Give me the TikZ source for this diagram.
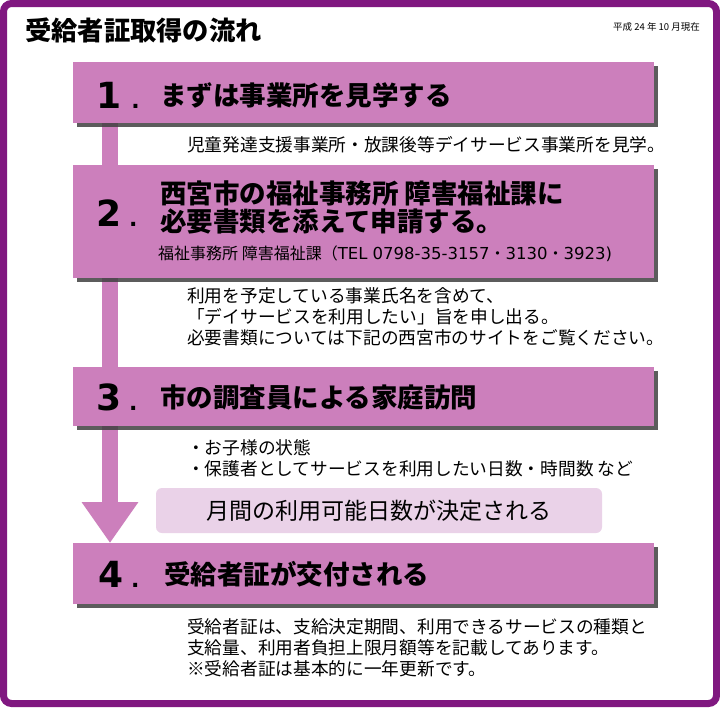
\documentclass[tikz,border=0pt]{standalone}
\usepackage{fontspec}
\setmainfont{Noto Sans CJK JP}
\newfontfamily\numfont{DejaVu Sans}
\usetikzlibrary{shadows,arrows.meta,backgrounds}

\definecolor{framepurple}{RGB}{128,24,128}
\definecolor{boxpink}{RGB}{204,127,188}
\definecolor{notepink}{RGB}{234,210,232}

\newcommand{\telfont}{\numfont\fontsize{16.5}{16.5}\selectfont}

\tikzset{
  stepbox/.style={anchor=north west, fill=boxpink, minimum width=581pt, inner sep=0pt,
    drop shadow={shadow xshift=4pt, shadow yshift=-4pt, fill=black!75, opacity=.85}},
  stepnum/.style={anchor=west, inner sep=0pt, font=\numfont\bfseries\fontsize{36}{36}\selectfont},
  stephead/.style={anchor=west, inner sep=0pt, align=left, font=\bfseries\fontsize{26.5}{27.5}\selectfont},
  steptext/.style={anchor=west, inner sep=0pt, align=left, font=\fontsize{17.7}{21}\selectfont},
  flowbar/.style={draw=boxpink, line width=16pt},
}

\begin{document}
\begin{tikzpicture}[x=1pt,y=-1pt]
\useasboundingbox (0,0) rectangle (720,707);
\begin{pgfonlayer}{background}
\draw[line width=7pt, draw=framepurple, fill=white, rounded corners=8pt] (3.5,3.5) rectangle (716.5,703.5);
\end{pgfonlayer}

\node[anchor=west, inner sep=0pt, font=\bfseries\fontsize{26.3}{26}\selectfont] (title) at (25,30) {受給者証取得の流れ};
\node[anchor=east, inner sep=0pt, font=\fontsize{9.5}{9.5}\selectfont] (date) at (700,27) {平成 24 年 10 月現在};

% step boxes
\node[stepbox, minimum height=61pt] (step1) at (73,62) {};
\node[stepbox, minimum height=113pt] (step2) at (73,165) {};
\node[stepbox, minimum height=59pt] (step3) at (73,367) {};
\node[stepbox, minimum height=61pt] (step4) at (73,543) {};

\node[stepnum] (num1) at (96,95) {1\kern10pt{\fontsize{22}{22}\selectfont.}};
\node[stephead] (head1) at (160,95) {まずは事業所を見学する};
\node[stepnum] (num2) at (96,213) {2\kern8pt{\fontsize{22}{22}\selectfont.}};
\node[stephead] (head2) at (160,207.5) {西宮市の福祉事務所 障害福祉課に\\必要書類を添えて申請する。};
\node[anchor=west, inner sep=0pt, font=\fontsize{16}{16}\selectfont] (tel) at (158,254)
  {福祉事務所 障害福祉課（{\telfont TEL 0798-35-3157}・{\telfont 3130}・{\telfont 3923)}};
\node[stepnum] (num3) at (96,397) {3\kern8pt{\fontsize{22}{22}\selectfont.}};
\node[stephead] (head3) at (160,397) {市の調査員による家庭訪問};
\node[stepnum] (num4) at (98,574) {4\kern8pt{\fontsize{22}{22}\selectfont.}};
\node[stephead] (head4) at (164,574) {受給者証が交付される};

% descriptions
\node[steptext] (desc1) at (187,145) {児童発達支援事業所・放課後等デイサービス事業所を見学。};
\node[steptext] (desc2) at (187,317) {利用を予定している事業氏名を含めて、\\「デイサービスを利用したい」旨を申し出る。\\必要書類については下記の西宮市のサイトをご覧ください。};
\node[steptext] (desc3) at (187,458.5) {・お子様の状態\\・保護者としてサービスを利用したい日数・時間数 など};
\node[fill=notepink, rounded corners=6pt, minimum width=446pt, minimum height=45pt, inner sep=0pt,
  font=\fontsize{23}{23}\selectfont] (note) at (379,510.5) {月間の利用可能日数が決定される};
\node[steptext] (desc4) at (187,647.5) {受給者証は、支給決定期間、利用できるサービスの種類と\\支給量、利用者負担上限月額等を記載してあります。\\※受給者証は基本的に一年更新です。};

% connectors
\begin{pgfonlayer}{background}
\draw[flowbar] ([xshift=37pt]step1.south west) -- ([xshift=37pt]step2.north west);
\draw[flowbar] ([xshift=37pt]step2.south west) -- ([xshift=37pt]step3.north west);
\draw[flowbar, -{Triangle[width=54pt,length=41pt]}] ([xshift=37pt]step3.south west) -- ([xshift=37pt]step4.north west);
\end{pgfonlayer}
\end{tikzpicture}
\end{document}
